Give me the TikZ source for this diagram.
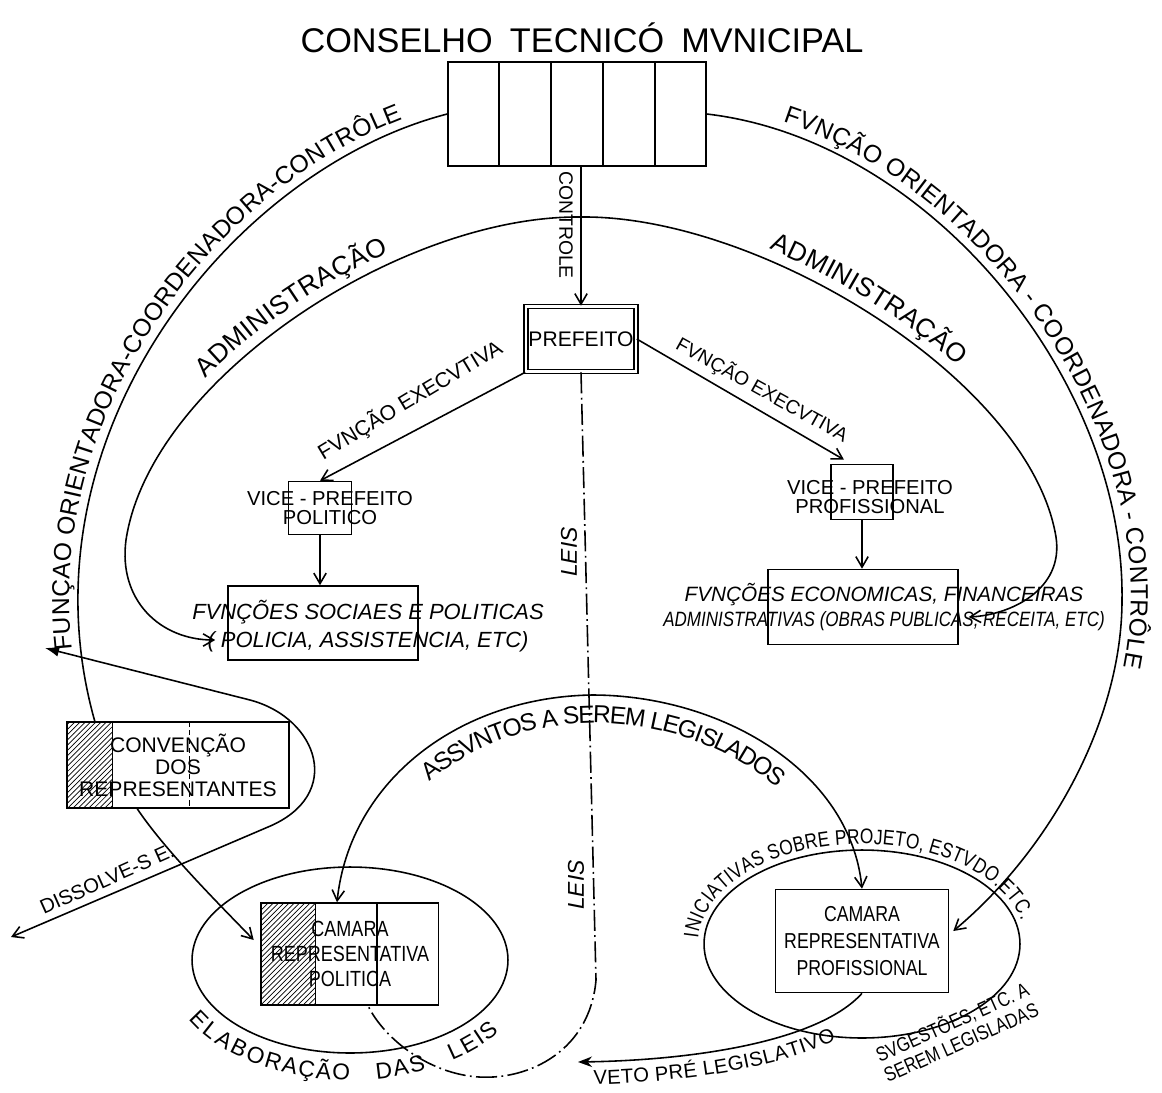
\documentclass[tikz,border=0pt]{standalone}
\usepackage{fontspec}
\setmainfont{Liberation Sans}
\newfontfamily\narrowfont{Liberation Sans}[FakeStretch=0.82]
\usetikzlibrary{calc,patterns,shapes.geometric,decorations.text,arrows.meta,backgrounds}
\newcommand\arcfont{\fontsize{14}{14}\selectfont}
\newcommand\admfont{\fontsize{15}{15}\selectfont}
\newcommand\assfont{\fontsize{14}{14}\selectfont}
\newcommand\elabfont{\fontsize{13}{13}\selectfont}
\newcommand\iniciafont{\narrowfont\fontsize{12}{12}\selectfont}
\tikzset{
  boxnode/.style={draw, inner sep=0pt},
  barb/.style={-{Straight Barb[length=6pt,width=7pt]}},
  leisline/.style={dash pattern=on 12pt off 2.5pt on 1pt off 2.5pt},
}

\begin{document}
\begin{tikzpicture}[x=0.02cm, y=-0.02cm, line width=0.9pt]
		%%%%% START %%%%%
		\useasboundingbox (0,0) rectangle (1162,1092);
		
		% conselho tecnico
		\node[font=\fontsize{19.5}{20}\selectfont] (titulo) at (582,38) {CONSELHO\enspace TECNICÓ\enspace MVNICIPAL};
		\node[boxnode, minimum width=5.16cm, minimum height=2.08cm] (council) at (577,114) {};
		\foreach \i in {1,...,4}
			\draw ($(council.north west)!\i/5!(council.north east)$) -- ($(council.south west)!\i/5!(council.south east)$);
		
		% prefeito e vice-prefeitos
		\node[boxnode, double, double distance=1.5pt, minimum width=2.2cm, minimum height=1.3cm, font=\fontsize{12}{12}\selectfont] (prefeito) at (581,339) {PREFEITO};
		\node[rotate=-90, font=\fontsize{11}{11}\selectfont] (controle) at (566,225) {CONTROLE};
		
		\node[boxnode, minimum width=1.26cm, minimum height=1.06cm] (vpPolBox) at (320,508) {};
		\node[align=center, font=\fontsize{11.5}{10.5}\selectfont] (vpPol) at (330,508) {VICE - PREFEITO\\POLITICO};
		\node[boxnode, minimum width=1.24cm, minimum height=1.1cm] (vpProfBox) at (862,492) {};
		\node[align=center, font=\fontsize{11.5}{10.5}\selectfont] (vpProf) at (870,497) {VICE - PREFEITO\\PROFISSIONAL};
		
		\node[boxnode, minimum width=3.8cm, minimum height=1.48cm] (funcSocBox) at (323,623) {};
		\node[align=center, font=\itshape\fontsize{12.5}{16}\selectfont] (funcSoc) at (368,626) {FVNÇÕES SOCIAES E POLITICAS\\( POLICIA, ASSISTENCIA, ETC)};
		\node[boxnode, minimum width=3.8cm, minimum height=1.5cm] (funcEcoBox) at (863,607) {};
		\node[align=center, font=\itshape\fontsize{11.8}{14}\selectfont] (funcEco) at (884,607) {FVNÇÕES ECONOMICAS, FINANCEIRAS\\{\narrowfont ADMINISTRATIVAS (OBRAS PUBLICAS, RECEITA, ETC)}};
		
		% camaras
		\node[boxnode, minimum width=4.44cm, minimum height=1.72cm, align=center, font=\fontsize{12}{12.5}\selectfont] (convencao) at (178,765) {CONVENÇÃO\\DOS\\REPRESENTANTES};
		\node[draw, ellipse, inner sep=0pt, minimum width=6.32cm, minimum height=3.72cm] (ellPol) at (350,960) {};
		\node[boxnode, minimum width=3.54cm, minimum height=2.04cm, align=center, font=\narrowfont\fontsize{12.5}{14}\selectfont] (camPol) at (350,954) {CAMARA\\REPRESENTATIVA\\POLITICA};
		\node[draw, ellipse, inner sep=0pt, minimum width=6.32cm, minimum height=3.76cm] (ellProf) at (862,944) {};
		\node[boxnode, minimum width=3.46cm, minimum height=2.06cm, align=center, font=\narrowfont\fontsize{12.3}{15.5}\selectfont] (camProf) at (862,941) {CAMARA\\REPRESENTATIVA\\PROFISSIONAL};
		
		\begin{scope}[on background layer]
			\draw[pattern=north east lines] (convencao.north west) rectangle ($(convencao.south west)+(46,0)$);
			\draw[pattern=north east lines] (camPol.north west) rectangle ($(camPol.south west)+(55,0)$);
		\end{scope}
		\draw[thin, densely dashed] ($(convencao.north west)+(123,0)$) -- ($(convencao.south west)+(123,0)$);
		\draw ($(camPol.north west)+(116,0)$) -- ($(camPol.south west)+(116,0)$);
		
		% funcao orientadora (arcos de fora)
		\coordinate (oL) at (95,722);
		\coordinate (oR) at (1122,600);
		\draw (council.west) .. controls (230,170) and (15,440) .. (oL);
		\path[decorate, decoration={text along path, raise=5pt, text align={left indent=1.5cm},
			text={|\arcfont|FUNÇAO ORIENTADORA-COORDENADORA-CONTRÔLE}}]
			(oL) .. controls (15,440) and (230,170) .. (council.west);
		\draw[barb] (council.east) .. controls (930,140) and (1125,380) .. (oR) .. controls (1122,720) and (1050,850) .. ($(camProf.east)+(4,-10)$);
		\path[decorate, decoration={text along path, raise=5pt, text align={left indent=1.5cm},
			text={|\arcfont|FVNÇÃO ORIENTADORA - COORDENADORA - CONTRÔLE}}]
			(council.east) .. controls (930,140) and (1125,380) .. (oR) .. controls (1122,720) and (1050,850) .. (camProf.east);
		
		% administracao (arco de dentro)
		\coordinate (admTop) at (581,217);
		\coordinate (admL) at (126,540);
		\coordinate (admR) at (1056,537);
		\draw[barb] (admTop) .. controls (400,215) and (150,380) .. (admL) .. controls (118,600) and (160,640) .. ($(funcSocBox.west)+(-12,17)$);
		\draw[barb] (admTop) .. controls (760,215) and (1030,380) .. (admR) .. controls (1064,590) and (1010,615) .. ($(funcEcoBox.east)+(10,10)$);
		\path[decorate, decoration={text along path, raise=6pt, text align={left indent=3.6cm},
			text={|\admfont|ADMINISTRAÇÃO}}] (admL) .. controls (150,380) and (400,215) .. (admTop);
		\path[decorate, decoration={text along path, raise=6pt, text align={left indent=3.8cm},
			text={|\admfont|ADMINISTRAÇÃO}}] (admTop) .. controls (760,215) and (1030,380) .. (admR);
		
		% controle e funcao executiva
		\draw[barb] (council.south -| prefeito) -- (prefeito.north);
		\draw[barb] (prefeito.south west) -- (vpPolBox.north);
		\draw[barb] (prefeito.east) -- ($(vpProfBox.north)+(-18,-4)$);
		\node[rotate=31, font=\fontsize{12}{12}\selectfont] (execL) at (410,400) {FVNÇÃO EXECVTIVA};
		\node[rotate=-29, font=\fontsize{11}{11}\selectfont] (execR) at (762,390) {FVNÇÃO EXECVTIVA};
		\draw[barb] (vpPolBox.south) -- (vpPolBox.south |- funcSocBox.north);
		\draw[barb] (vpProfBox.south) -- (vpProfBox.south |- funcEcoBox.north);
		
		% leis
		\coordinate (leisA) at (596,980);
		\coordinate (leisB) at (479,1077);
		\draw[leisline] (prefeito.south) -- (leisA) .. controls (590,1050) and (530,1080) .. (leisB) .. controls (430,1074) and (385,1040) .. ($(camPol.south)+(18,0)$);
		\node[rotate=90, font=\itshape\fontsize{13}{13}\selectfont] (leis1) at (569,552) {LEIS};
		\node[rotate=90, font=\itshape\fontsize{13}{13}\selectfont] (leis2) at (576,885) {LEIS};
		
		% convencao dos representantes
		\coordinate (dissA) at (45,648);
		\coordinate (dissB) at (11,937);
		\draw[{Latex[length=8pt]}-{Straight Barb[length=6pt,width=7pt]}] (dissA) -- (250,700) .. controls (318,718) and (345,795) .. (268,827) -- (dissB);
		\node[rotate=24, font=\fontsize{11.5}{11.5}\selectfont] (dissolve) at (107,879) {DISSOLVE-S E.};
		\draw[barb] ($(convencao.south west)+(71,0)$) .. controls (165,850) and (215,900) .. ($(camPol.west)+(-7,-14)$);
		
		% assuntos a serem legislados
		\coordinate (assTop) at (592,695);
		\draw[{Straight Barb[length=6pt,width=7pt]}-{Straight Barb[length=6pt,width=7pt]}] ($(camPol.north)+(-13,0)$) .. controls (350,780) and (460,697) .. (assTop) .. controls (720,695) and (850,770) .. (camProf.north);
		\path[decorate, decoration={text along path, raise=-16pt, text align={left indent=3.3cm},
			text={|\assfont|ASSVNTOS A SEREM LEGISLADOS}}]
			($(camPol.north)+(-13,0)$) .. controls (350,780) and (460,697) .. (assTop) .. controls (720,695) and (850,770) .. (camProf.north);
		
		% textos das camaras
		\path[decorate, decoration={text along path, raise=3pt, text align={left indent=0.1cm},
			text={|\iniciafont|INICIATIVAS SOBRE PROJETO, ESTVDO.ETC.}}]
			(ellProf.west) .. controls +(0,-52) and +(-87.3,0) .. (ellProf.north) .. controls +(87.3,0) and +(0,-52) .. (ellProf.east) .. controls +(0,30) and +(25,-15) .. (975,1015);
		\path[decorate, decoration={text along path, raise=-15pt, text align={left indent=0.9cm},
			text={|\elabfont|ELABORAÇÃO{\quad}DAS{\quad}LEIS}}]
			(ellPol.west) .. controls +(0,52) and +(-87.3,0) .. (ellPol.south) .. controls +(87.3,0) and +(0,52) .. (ellPol.east);
		
		\coordinate (vetoEnd) at (578,1062);
		\draw[-{Stealth[length=8pt]}] (camProf.south) .. controls (820,1040) and (700,1060) .. (vetoEnd);
		\path[decorate, decoration={text along path, raise=-13pt, text align={left indent=0.3cm},
			text={|\fontsize{11.5}{11.5}\selectfont|VETO PRÉ LEGISLATIVO}}]
			(vetoEnd) .. controls (700,1060) and (820,1040) .. (camProf.south);
		\node[rotate=24, align=center, font=\narrowfont\fontsize{11.5}{12.5}\selectfont] (sugest) at (956,1031) {SVGESTÕES, ETC. A\\SEREM LEGISLADAS};
		
		%%%%% END %%%%%
\end{tikzpicture}
\end{document}
